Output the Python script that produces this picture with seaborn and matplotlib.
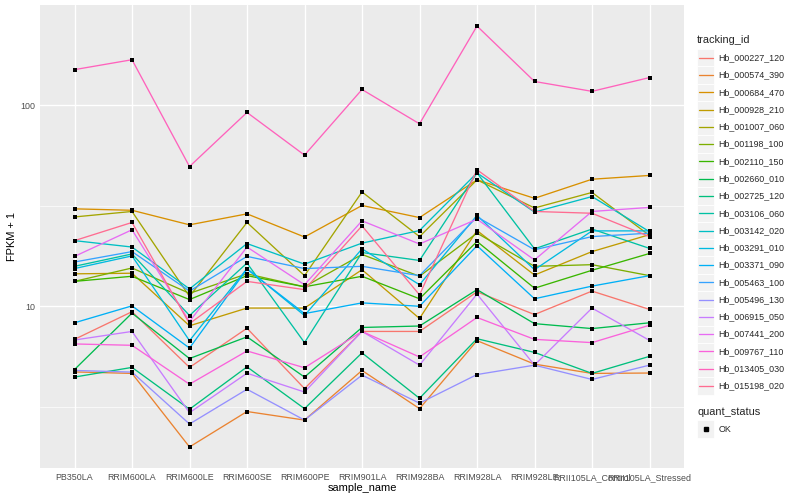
import numpy as np
import pandas as pd
import matplotlib
matplotlib.use("Agg")
import matplotlib.pyplot as plt
import seaborn as sns
from matplotlib.lines import Line2D
from matplotlib.patches import Rectangle
from matplotlib import font_manager

# ---------------- data ----------------
samples = ["PB350LA", "RRIM600LA", "RRIM600LE", "RRIM600SE", "RRIM600PE",
           "RRIM901LA", "RRIM928BA", "RRIM928LA", "RRIM928LE",
           "RRII105LA_Control", "RRII105LA_Stressed"]

tracking_ids = ["Hb_000227_120", "Hb_000574_390", "Hb_000684_470", "Hb_000928_210",
                "Hb_001007_060", "Hb_001198_100", "Hb_002110_150", "Hb_002660_010",
                "Hb_002725_120", "Hb_003106_060", "Hb_003142_020", "Hb_003291_010",
                "Hb_003371_090", "Hb_005463_100", "Hb_005496_130", "Hb_006915_050",
                "Hb_007441_200", "Hb_009767_110", "Hb_013405_030", "Hb_015198_020"]

hb_000227_120 = [6.85, 9.4, 4.97, 7.78, 3.9, 7.5, 7.5, 11.8, 9.1, 11.9, 9.65]
hb_000574_390 = [4.72, 4.64, 2.0, 3.0, 2.72, 4.8, 3.1, 6.75, 5.16, 4.64, 4.66]
hb_000684_470 = [30.5, 30.0, 25.4, 28.8, 22.1, 31.7, 27.6, 42.5, 34.4, 42.8, 44.7]
hb_000928_210 = [14.5, 14.6, 8.0, 9.8, 9.8, 15.2, 8.7, 23.8, 14.3, 18.7, 22.7]
hb_001007_060 = [27.8, 29.6, 11.2, 26.1, 14.2, 37.0, 22.2, 42.5, 30.8, 36.8, 22.5]
hb_001198_100 = [13.3, 15.5, 11.6, 14.5, 12.5, 18.1, 14.1, 23.1, 15.8, 16.1, 14.2]
hb_002110_150 = [13.3, 14.1, 10.8, 14.2, 12.5, 14.1, 10.9, 21.0, 12.3, 15.1, 18.3]
hb_002660_010 = [4.85, 9.25, 5.5, 7.05, 4.45, 7.85, 7.98, 12.1, 8.2, 7.75, 8.28]
hb_002725_120 = [4.45, 4.97, 3.08, 5.0, 3.1, 5.87, 3.49, 6.9, 5.9, 4.64, 5.64]
hb_003106_060 = [15.8, 18.2, 9.0, 16.4, 6.6, 18.5, 16.9, 46.0, 19.3, 24.2, 19.4]
hb_003142_020 = [21.2, 19.7, 12.2, 20.5, 16.2, 20.6, 23.8, 46.0, 29.4, 35.1, 23.5]
hb_003291_010 = [15.4, 17.8, 6.75, 15.4, 9.0, 19.3, 12.8, 28.3, 15.2, 23.7, 23.7]
hb_003371_090 = [8.28, 10.05, 6.2, 15.3, 9.2, 10.4, 10.0, 20.0, 10.9, 12.6, 14.2]
hb_005463_100 = [16.6, 18.7, 11.9, 17.7, 15.4, 15.8, 14.2, 27.8, 19.1, 22.2, 23.1]
hb_005496_130 = [4.8, 4.71, 2.6, 3.87, 2.72, 4.55, 3.3, 4.58, 5.1, 4.33, 5.1]
hb_006915_050 = [6.8, 7.5, 2.96, 4.65, 3.75, 7.5, 5.1, 11.5, 5.1, 9.8, 6.77]
hb_007441_200 = [17.7, 24.0, 8.4, 19.7, 12.8, 26.6, 20.4, 27.1, 17.0, 29.6, 31.0]
hb_009767_110 = [6.5, 6.4, 4.1, 6.0, 4.95, 7.5, 5.6, 8.8, 6.85, 6.6, 8.05]
hb_013405_030 = [150, 168, 49.5, 91.9, 56.4, 119.5, 80.7, 247, 131, 117, 137]
hb_015198_020 = [21.2, 26.1, 8.2, 13.3, 12.1, 25.1, 11.4, 47.7, 29.6, 29.0, 22.2]

series = [hb_000227_120, hb_000574_390, hb_000684_470, hb_000928_210, hb_001007_060,
          hb_001198_100, hb_002110_150, hb_002660_010, hb_002725_120, hb_003106_060,
          hb_003142_020, hb_003291_010, hb_003371_090, hb_005463_100, hb_005496_130,
          hb_006915_050, hb_007441_200, hb_009767_110, hb_013405_030, hb_015198_020]

quant_status = ["OK"]

# ggplot2 default hue palette for 20 levels
colors = ["#F8766D", "#EA8331", "#D89000", "#C09B00", "#A3A500", "#7CAE00", "#39B600",
          "#00BB4E", "#00BF7D", "#00C1A3", "#00BFC4", "#00BAE0", "#00B0F6", "#35A2FF",
          "#9590FF", "#C77CFF", "#E76BF3", "#FA62DB", "#FF62BC", "#FF6C91"]

rows = []
for tid, vals in zip(tracking_ids, series):
    for i, (s, v) in enumerate(zip(samples, vals)):
        rows.append({"tracking_id": tid, "sample_name": s, "pos": i, "fpkm1": v,
                     "quant_status": "OK"})
df = pd.DataFrame(rows)

# ---------------- style ----------------
sns.set_theme(style="white")
names = {f.name for f in font_manager.fontManager.ttflist}
fam = "Liberation Sans Narrow" if "Liberation Sans Narrow" in names else "Liberation Sans"
plt.rcParams["font.family"] = [fam, "DejaVu Sans"]

W, H = 800, 500
fig = plt.figure(figsize=(8, 5), dpi=100)
L, R, T, B = 40, 684, 5, 468
ax = fig.add_axes([L / W, 1 - B / H, (R - L) / W, (B - T) / H])
ax.set_facecolor("#EBEBEB")
for sp in ax.spines.values():
    sp.set_visible(False)

sns.lineplot(data=df, x="pos", y="fpkm1", hue="tracking_id", hue_order=tracking_ids,
             palette=colors, linewidth=0.95, legend=False, sort=False,
             estimator=None, units="tracking_id", ax=ax, zorder=2)
sns.scatterplot(data=df, x="pos", y="fpkm1", color="black", marker="s", s=7,
                linewidth=0, legend=False, ax=ax, zorder=3)

ax.set_yscale("log")
lo, hi = np.log10(df["fpkm1"].min()), np.log10(df["fpkm1"].max())
pad = 0.05 * (hi - lo)
ax.set_ylim(10 ** (lo - pad), 10 ** (hi + pad))
ax.set_xlim(-0.6, len(samples) - 1 + 0.6)

ax.set_yticks([10, 100])
ax.set_yticklabels(["10", "100"])
ax.set_yticks([10 ** 0.5, 10 ** 1.5], minor=True)
ax.set_yticklabels([], minor=True)
ax.set_xticks(range(len(samples)))
ax.set_xticklabels(samples)

ax.grid(which="major", color="white", linewidth=1.0)
ax.grid(which="minor", axis="y", color="white", linewidth=0.5)
ax.set_axisbelow(True)
ax.tick_params(axis="both", which="major", length=2.0, width=0.8, color="#333333",
               labelsize=6.4, labelcolor="#4D4D4D", pad=1.6)
ax.tick_params(axis="y", which="minor", length=0)
ax.set_xlabel("")
ax.set_ylabel("")

fig.text(12 / W, 1 - ((T + B) / 2) / H, "FPKM + 1", rotation=90, ha="center",
         va="center", fontsize=7.9, color="black")
fig.text(((L + R) / 2) / W, 1 - 488 / H, "sample_name", ha="center", va="center",
         fontsize=7.9, color="black")

# ---------------- legend (ggplot style) ----------------
def fx(x):
    return x / W

def fy(y):
    return 1 - y / H

key = 17.28
lx = 697
fig.text(fx(lx), fy(40), "tracking_id", ha="left", va="center", fontsize=7.9)
y0 = 57.7
for i, (tid, col) in enumerate(zip(tracking_ids, colors)):
    yc = y0 + i * key
    fig.patches.append(Rectangle((fx(lx), fy(yc + key / 2)), key / W, key / H,
                                 transform=fig.transFigure, facecolor="#F2F2F2",
                                 edgecolor="white", linewidth=0.6))
    fig.lines.append(Line2D([fx(lx + 1.7), fx(lx + key - 1.7)], [fy(yc), fy(yc)],
                            transform=fig.transFigure, color=col, linewidth=0.95))
    fig.text(fx(lx + key + 4), fy(yc), tid, ha="left", va="center", fontsize=6.4)

fig.text(fx(lx), fy(412), "quant_status", ha="left", va="center", fontsize=7.9)
yc = 429
fig.patches.append(Rectangle((fx(lx), fy(yc + key / 2)), key / W, key / H,
                             transform=fig.transFigure, facecolor="#F2F2F2",
                             edgecolor="white", linewidth=0.6))
fig.lines.append(Line2D([fx(lx + key / 2)], [fy(yc)], transform=fig.transFigure,
                        color="black", marker="s", markersize=2.6, linestyle="none"))
fig.text(fx(lx + key + 4), fy(yc), quant_status[0], ha="left", va="center", fontsize=6.4)

fig.savefig("out.png", dpi=100, facecolor="white")
